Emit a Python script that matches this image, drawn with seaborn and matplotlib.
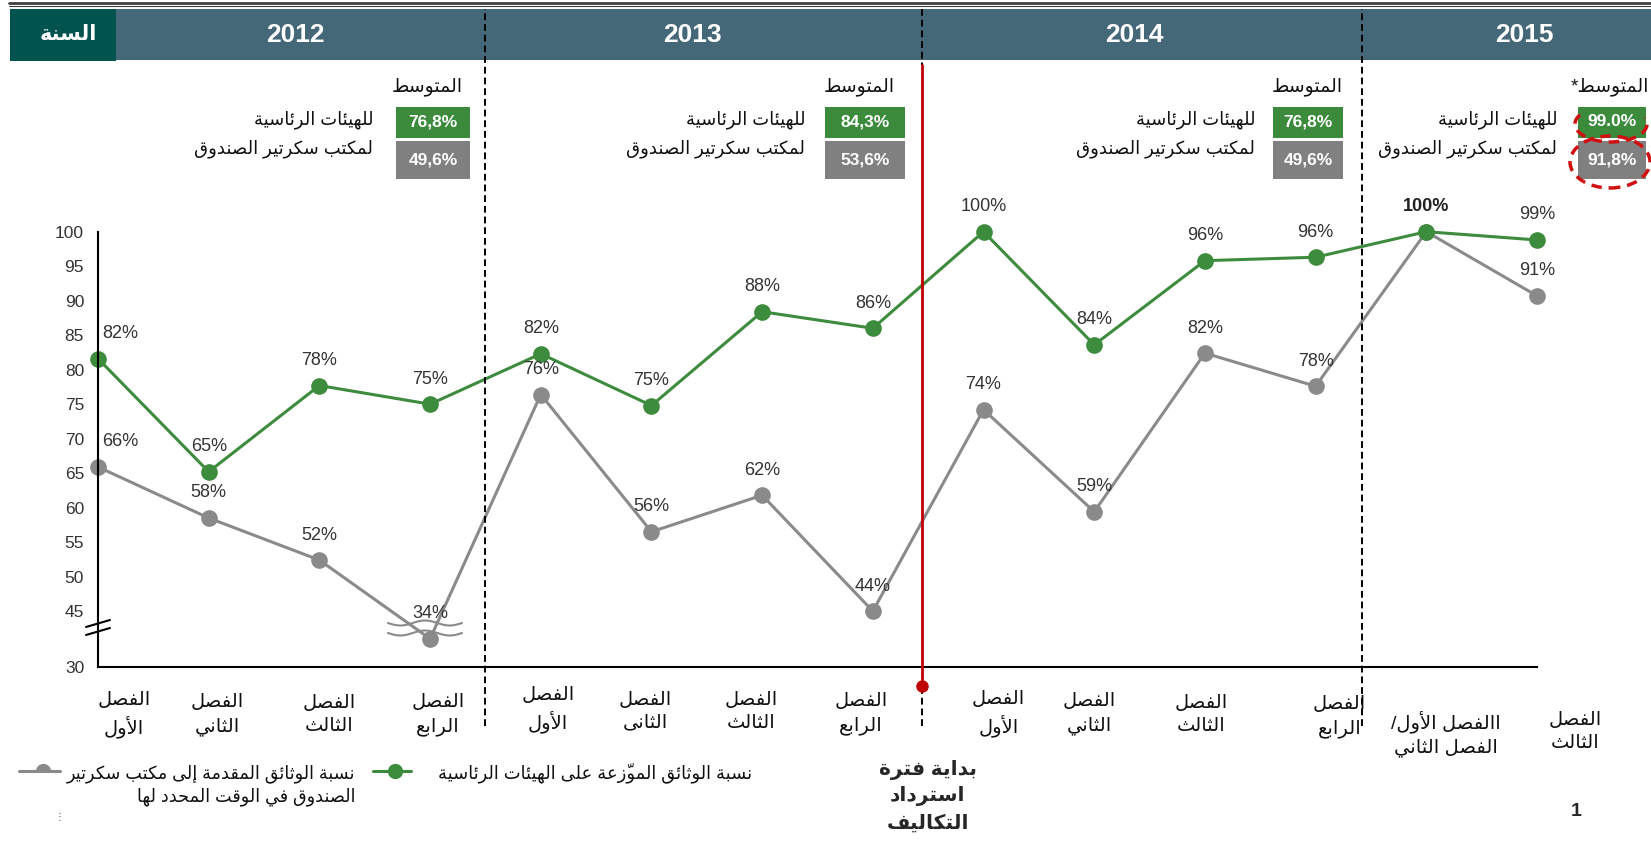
import numpy as np
import pandas as pd
import seaborn as sns
import matplotlib.pyplot as plt
from matplotlib.patches import Rectangle, Arc, Ellipse
from matplotlib.lines import Line2D

# ---------------- data ----------------
quarters = ['الفصل\nالأول', 'الفصل\nالثاني', 'الفصل\nالثالث', 'الفصل\nالرابع',
            'الفصل\nالأول', 'الفصل\nالثانى', 'الفصل\nالثالث', 'الفصل\nالرابع',
            'الفصل\nالأول', 'الفصل\nالثاني', 'الفصل\nالثالث', 'الفصل\nالرابع',
            'االفصل الأول/\nالفصل الثاني', 'الفصل\nالثالث']
years = ['2012', '2013', '2014', '2015']
presidium = [81.6, 65.2, 77.7, 75.0, 82.3, 74.8, 88.4, 86.0, 100, 83.6, 95.8, 96.3, 100, 98.8]
secretary = [65.9, 58.5, 52.4, 34.0, 76.4, 56.5, 61.8, 44.4, 74.2, 59.4, 82.4, 77.6, 100, 90.7]
avg_presidium = ['76,8%', '84,3%', '76,8%', '99.0%']
avg_secretary = ['49,6%', '53,6%', '49,6%', '91,8%']
y_ticks = [30, 45, 50, 55, 60, 65, 70, 75, 80, 85, 90, 95, 100]

name_pres = 'نسبة الوثائق الموزّعة على الهيئات الرئاسية'
name_sec = 'نسبة الوثائق المقدمة إلى مكتب سكرتير\nالصندوق في الوقت المحدد لها'

GREEN = '#3d8b3d'
GREY = '#8a8a8a'

# ---------------- arabic shaping (matplotlib has no bidi) ----------------
AR_BASE = {'ء': 0xFE80, 'آ': 0xFE81, 'أ': 0xFE83, 'ؤ': 0xFE85, 'إ': 0xFE87, 'ئ': 0xFE89,
           'ا': 0xFE8D, 'ب': 0xFE8F, 'ة': 0xFE93, 'ت': 0xFE95, 'ث': 0xFE99, 'ج': 0xFE9D,
           'ح': 0xFEA1, 'خ': 0xFEA5, 'د': 0xFEA9, 'ذ': 0xFEAB, 'ر': 0xFEAD, 'ز': 0xFEAF,
           'س': 0xFEB1, 'ش': 0xFEB5, 'ص': 0xFEB9, 'ض': 0xFEBD, 'ط': 0xFEC1, 'ظ': 0xFEC5,
           'ع': 0xFEC9, 'غ': 0xFECD, 'ف': 0xFED1, 'ق': 0xFED5, 'ك': 0xFED9, 'ل': 0xFEDD,
           'م': 0xFEE1, 'ن': 0xFEE5, 'ه': 0xFEE9, 'و': 0xFEED, 'ى': 0xFEEF, 'ي': 0xFEF1}
DUAL = set('ئبتثجحخسشصضطظعغفقكلمنهي')
RIGHT = set('آأؤإاةدذرزوى')
LAM_ALEF = {'آ': 0xFEF5, 'أ': 0xFEF7, 'إ': 0xFEF9, 'ا': 0xFEFB}
MARKS = set(chr(c) for c in range(0x064B, 0x0653))


def shape_line(s):
    cl = []
    for ch in s:
        if ch in MARKS and cl:
            cl[-1][1] += ch
        else:
            cl.append([ch, ''])
    out = []
    i = 0
    while i < len(cl):
        ch, mk = cl[i]
        prev = cl[i - 1][0] if i > 0 else ''
        jp = prev in DUAL and (ch in DUAL or ch in RIGHT)
        if ch == 'ل' and i + 1 < len(cl) and cl[i + 1][0] in LAM_ALEF:
            out.append(chr(LAM_ALEF[cl[i + 1][0]] + (1 if jp else 0)) + mk + cl[i + 1][1])
            i += 2
            continue
        if ch in AR_BASE:
            nxt = cl[i + 1][0] if i + 1 < len(cl) else ''
            jn = ch in DUAL and (nxt in DUAL or nxt in RIGHT)
            b = AR_BASE[ch]
            g = b + 3 if (jp and jn) else b + 1 if jp else b + 2 if jn else b
            out.append(chr(g) + mk)
        else:
            out.append(ch + mk)
        i += 1
    return ''.join(reversed(out))


def ar(s):
    return '\n'.join(shape_line(l) for l in s.split('\n'))


# ---------------- broken y scale (45 .. 30 squeezed) ----------------
BRK, SPAN, DEPTH, P = 45.0, 15.0, 8.1, 2.27


def fwd(v):
    v = np.asarray(v, float)
    t = np.clip((BRK - v) / SPAN, 0, None)
    return np.where(v >= BRK, v, BRK - DEPTH * t ** P)


def inv(y):
    y = np.asarray(y, float)
    t = np.clip((BRK - y) / DEPTH, 0, None)
    return np.where(y >= BRK, y, BRK - SPAN * t ** (1 / P))


# ---------------- figure ----------------
sns.set_style('white')
plt.rcParams['font.family'] = ['Liberation Sans', 'DejaVu Sans']

W, H = 1651, 842
AX_L, AX_R, AX_T, AX_B = 98, 1537, 231.7, 667


def fx(x):
    return x / W


def fy(y):
    return 1 - y / H


def ay(ypx):
    return (AX_B - ypx) / (AX_B - AX_T)


fig = plt.figure(figsize=(W / 100, H / 100), dpi=100)
ax = fig.add_axes([fx(AX_L), fy(AX_B), (AX_R - AX_L) / W, (AX_B - AX_T) / H])
ax.set_facecolor('none')

n = len(quarters)
df = pd.DataFrame({
    'pos': list(range(n)) * 2,
    'value': secretary + presidium,
    'series': ['sec'] * n + ['pres'] * n,
})
sns.lineplot(data=df, x='pos', y='value', hue='series', hue_order=['sec', 'pres'],
             palette={'sec': GREY, 'pres': GREEN}, marker='o', markersize=12,
             markeredgewidth=0, linewidth=2.2, legend=False, clip_on=False, ax=ax)

ax.set_yscale('function', functions=(fwd, inv))
ax.set_ylim(30, 100)
ax.set_xlim(0, n - 1)
ax.set_xticks(range(n))
ax.set_xticklabels([])
ax.set_yticks(y_ticks)
ax.set_yticklabels([str(t) for t in y_ticks])
ax.set_xlabel('')
ax.set_ylabel('')
for s in ['top', 'right']:
    ax.spines[s].set_visible(False)
for s in ['left', 'bottom']:
    ax.spines[s].set_color('black')
    ax.spines[s].set_linewidth(1.5)
ax.tick_params(axis='both', direction='out', length=5, width=1.2, color='black',
               labelsize=12.5, labelcolor='#333333', pad=5)
ax.minorticks_off()

# point labels
for i in range(n):
    off = (16, 18) if i == 0 else (0, 18)
    if presidium[i] == secretary[i]:
        ax.annotate(f'{presidium[i]:.0f}%', (i, presidium[i]), xytext=off, textcoords='offset points',
                    ha='center', va='center', fontsize=13, color='#222222', fontweight='bold')
        continue
    for v in (presidium[i], secretary[i]):
        ax.annotate(f'{v:.0f}%', (i, v), xytext=off, textcoords='offset points',
                    ha='center', va='center', fontsize=13, color='#333333')

# quarter labels
lab_dx = [26, 9, 10, 8, 7, -6, -11, -12, 15, -5, -4, 24, 20, 38]
lab_dy = [-48, -48, -48, -48, -43, -45, -45, -47, -47, -47, -48, -50, -67, -65]
for i, q in enumerate(quarters):
    ax.annotate(ar(q), (i, 0), xycoords=ax.get_xaxis_transform(), xytext=(lab_dx[i], lab_dy[i]),
                textcoords='offset pixels', ha='center', va='center', fontsize=14,
                color='#111111', linespacing=1.4, multialignment='center', annotation_clip=False)

# year separators and cost recovery line
dash = (0, (3.5, 2))
for xs in (3.5, 11.42):
    ax.axvline(xs, ymin=ay(726), ymax=ay(9), color='black', lw=1.4, ls=dash, clip_on=False, zorder=5)
RED_X = 7.44
ax.axvline(RED_X, ymin=ay(9), ymax=ay(65), color='black', lw=1.4, ls=dash, clip_on=False, zorder=5)
ax.axvline(RED_X, ymin=ay(726), ymax=ay(690), color='black', lw=1.4, ls=dash, clip_on=False, zorder=5)
ax.axvline(RED_X, ymin=ay(686), ymax=ay(65), color='#c00000', lw=2, clip_on=False, zorder=6)
ax.plot([RED_X], [ay(686)], 'o', color='#c00000', ms=8, transform=ax.get_xaxis_transform(),
        clip_on=False, zorder=7)
ax.annotate(ar('بداية فترة\nاسترداد\nالتكاليف'), (RED_X, 0), xycoords=ax.get_xaxis_transform(),
            xytext=(6, -129), textcoords='offset pixels', ha='center', va='center',
            fontsize=14.5, fontweight='bold', linespacing=1.45, annotation_clip=False)

# y-axis break marks
for y0 in (627, 635):
    fig.add_artist(Line2D([fx(86), fx(110)], [fy(y0), fy(y0 - 7)], transform=fig.transFigure,
                          color='black', lw=1.5))
wx = np.linspace(388, 462, 60)
for y0 in (623, 633):
    wy = y0 + 2.5 * np.sin((wx - 388) / 74 * 3 * np.pi)
    fig.add_artist(Line2D(fx(wx), fy(wy), transform=fig.transFigure, color=GREY, lw=1.5, zorder=8))

# ---------------- header ----------------
fig.add_artist(Line2D([fx(9), 1], [fy(2.5), fy(2.5)], transform=fig.transFigure, color='#404040', lw=2))
fig.add_artist(Line2D([fx(9), 1], [fy(6), fy(6)], transform=fig.transFigure, color='#404040', lw=0.8))
fig.add_artist(Rectangle((fx(116), fy(60)), 1 - fx(116), (60 - 9) / H, transform=fig.transFigure,
                         facecolor='#456878', edgecolor='none', zorder=-1))
fig.add_artist(Rectangle((fx(10), fy(61)), (116 - 10) / W, (61 - 9) / H,
                         transform=fig.transFigure, facecolor='#00534e', edgecolor='none', zorder=-1))
fig.text(fx(68), fy(35), ar('السنة'), ha='center', va='center', color='white', fontsize=15,
         fontweight='bold')
for yr, xc in zip(years, (295, 692, 1134, 1524)):
    fig.text(fx(xc), fy(35), yr, ha='center', va='center', color='white', fontsize=19,
             fontweight='bold')

# ---------------- yearly averages ----------------
box_l = [396, 825, 1273, 1578]
box_r = [470, 905, 1343, 1646]
avg_r = [463, 895, 1343, 1649]
row_r = [373, 805, 1255, 1557]
for k in range(4):
    title = 'المتوسط*' if k == 3 else 'المتوسط'
    fig.text(fx(avg_r[k]), fy(87), ar(title), ha='right', va='center', fontsize=13.5, color='#111111')
    fig.text(fx(row_r[k]), fy(120), ar('للهيئات الرئاسية'), ha='right', va='center', fontsize=13,
             color='#111111')
    fig.text(fx(row_r[k]), fy(149), ar('لمكتب سكرتير الصندوق'), ha='right', va='center',
             fontsize=13, color='#111111')
    fig.add_artist(Rectangle((fx(box_l[k]), fy(138)), (box_r[k] - box_l[k]) / W, 31 / H,
                             transform=fig.transFigure, facecolor='#3c8a3c', edgecolor='none'))
    fig.add_artist(Rectangle((fx(box_l[k]), fy(179)), (box_r[k] - box_l[k]) / W, 37.5 / H,
                             transform=fig.transFigure, facecolor='#808080', edgecolor='none'))
    xc = (box_l[k] + box_r[k]) / 2
    fig.text(fx(xc), fy(122), avg_presidium[k], ha='center', va='center', fontsize=12.5,
             color='white', fontweight='bold')
    fig.text(fx(xc), fy(160), avg_secretary[k], ha='center', va='center', fontsize=12.5,
             color='white', fontweight='bold')

fig.add_artist(Arc((fx(1611), fy(124)), 72 / W, 36 / H, theta1=150, theta2=380,
                   transform=fig.transFigure, color='#d01010', lw=2.5, ls=(0, (3, 2))))
fig.add_artist(Ellipse((fx(1610), fy(162)), 80 / W, 52 / H, transform=fig.transFigure,
                       fill=False, edgecolor='#d01010', lw=2.5, ls=(0, (3, 2))))

# ---------------- legend ----------------
fig.add_artist(Line2D([fx(19), fx(60)], [fy(771), fy(771)], transform=fig.transFigure,
                      color=GREY, lw=2.2))
fig.add_artist(Line2D([fx(43)], [fy(771)], transform=fig.transFigure, color=GREY, marker='o',
                      ms=11, mew=0, fillstyle='top', markerfacecoloralt='none'))
fig.text(fx(355), fy(785), ar(name_sec), ha='right', va='center', fontsize=12.7,
         multialignment='right', linespacing=1.35, color='#111111')
fig.add_artist(Line2D([fx(373), fx(411)], [fy(771), fy(771)], transform=fig.transFigure,
                      color=GREEN, lw=2.2))
fig.add_artist(Line2D([fx(395)], [fy(771)], transform=fig.transFigure, color=GREEN, marker='o',
                      ms=11, mew=0))
fig.text(fx(752), fy(773), ar(name_pres), ha='right', va='center', fontsize=12.9, color='#111111')
fig.text(fx(59), fy(817), '⋮', ha='center', va='center', fontsize=7, color='#555555')
fig.text(fx(1576), fy(812), '1', ha='center', va='center', fontsize=14, fontweight='bold')

fig.savefig('out.png', dpi=100)
